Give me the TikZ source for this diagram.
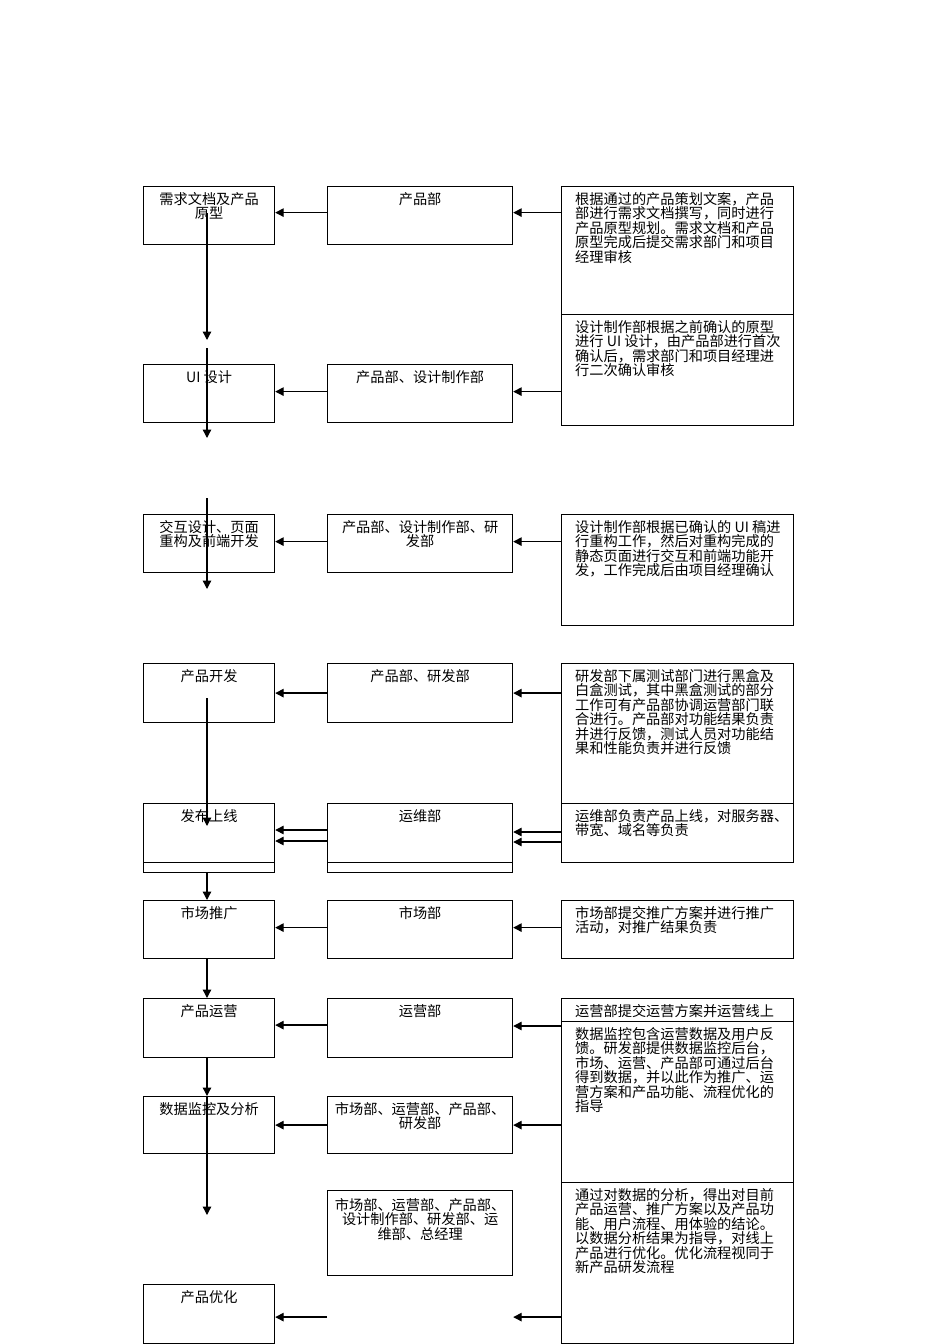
\documentclass[tikz,border=0pt]{standalone}
\usepackage{fontspec}
\newfontfamily\cjk{Noto Sans CJK SC}
\usetikzlibrary{arrows.meta,calc}
\tikzset{
  box/.style={draw, line width=1.2pt, inner sep=0pt, anchor=north west},
  ctext/.style={font=\cjk\fontsize{14.2}{14.5}\selectfont, inner sep=0pt, anchor=north, align=center},
  ltext/.style={font=\cjk\fontsize{14.2}{14.5}\selectfont, inner sep=0pt, anchor=north west, align=left},
  arr/.style={line width=1.3pt, -{Triangle[length=8.5pt,width=8.5pt]}},
  ln/.style={line width=1.2pt}
}
\begin{document}
\begin{tikzpicture}[x=1pt,y=-1pt]
\useasboundingbox[fill=white] (0,0) rectangle (950,1344);
% left column
\node[box, minimum width=131pt, minimum height=58pt] (l1) at (143,186) {};
\node[box, minimum width=131pt, minimum height=58pt] (l2) at (143,364) {};
\node[box, minimum width=131pt, minimum height=58pt] (l3) at (143,514) {};
\node[box, minimum width=131pt, minimum height=59pt] (l4) at (143,663) {};
\node[box, minimum width=131pt, minimum height=69pt] (l5) at (143,803) {};
\node[box, minimum width=131pt, minimum height=58pt] (l6) at (143,900) {};
\node[box, minimum width=131pt, minimum height=59pt] (l7) at (143,998) {};
\node[box, minimum width=131pt, minimum height=57pt] (l8) at (143,1096) {};
\node[box, minimum width=131pt, minimum height=59pt] (l9) at (143,1284) {};
% middle column
\node[box, minimum width=185pt, minimum height=58pt] (m1) at (327,186) {};
\node[box, minimum width=185pt, minimum height=58pt] (m2) at (327,364) {};
\node[box, minimum width=185pt, minimum height=58pt] (m3) at (327,514) {};
\node[box, minimum width=185pt, minimum height=59pt] (m4) at (327,663) {};
\node[box, minimum width=185pt, minimum height=69pt] (m5) at (327,803) {};
\node[box, minimum width=185pt, minimum height=58pt] (m6) at (327,900) {};
\node[box, minimum width=185pt, minimum height=59pt] (m7) at (327,998) {};
\node[box, minimum width=185pt, minimum height=57pt] (m8) at (327,1096) {};
\node[box, minimum width=185pt, minimum height=85pt] (m9) at (327,1190) {};
% right column
\node[box, minimum width=232pt, minimum height=128pt] (r1) at (561,186) {};
\node[box, minimum width=232pt, minimum height=111pt] (r2) at (561,314) {};
\node[box, minimum width=232pt, minimum height=111pt] (r3) at (561,514) {};
\node[box, minimum width=232pt, minimum height=140pt] (r4) at (561,663) {};
\node[box, minimum width=232pt, minimum height=59pt] (r5) at (561,803) {};
\node[box, minimum width=232pt, minimum height=58pt] (r6) at (561,900) {};
\node[box, minimum width=232pt, minimum height=23pt] (r7) at (561,998) {};
\node[box, minimum width=232pt, minimum height=161pt] (r8) at (561,1021) {};
\node[box, minimum width=232pt, minimum height=161pt] (r9) at (561,1182) {};
% inner lines of row 5
\draw[ln] ($(l5.south west)+(0,-11)$) -- ($(l5.south east)+(0,-11)$);
\draw[ln] ($(m5.south west)+(0,-11)$) -- ($(m5.south east)+(0,-11)$);
% texts left
\node[ctext] (tl1) at ($(l1.north)+(0,6)$) {需求文档及产品\\原型};
\node[ctext] (tl2) at ($(l2.north)+(0,6)$) {UI 设计};
\node[ctext] (tl3) at ($(l3.north)+(0,6)$) {交互设计、页面\\重构及前端开发};
\node[ctext] (tl4) at ($(l4.north)+(0,6)$) {产品开发};
\node[ctext] (tl5) at ($(l5.north)+(0,6)$) {发布上线};
\node[ctext] (tl6) at ($(l6.north)+(0,6)$) {市场推广};
\node[ctext] (tl7) at ($(l7.north)+(0,6)$) {产品运营};
\node[ctext] (tl8) at ($(l8.north)+(0,6)$) {数据监控及分析};
\node[ctext] (tl9) at ($(l9.north)+(0,6)$) {产品优化};
% texts middle
\node[ctext] (tm1) at ($(m1.north)+(0,6)$) {产品部};
\node[ctext] (tm2) at ($(m2.north)+(0,6)$) {产品部、设计制作部};
\node[ctext] (tm3) at ($(m3.north)+(0,6)$) {产品部、设计制作部、研\\发部};
\node[ctext] (tm4) at ($(m4.north)+(0,6)$) {产品部、研发部};
\node[ctext] (tm5) at ($(m5.north)+(0,6)$) {运维部};
\node[ctext] (tm6) at ($(m6.north)+(0,6)$) {市场部};
\node[ctext] (tm7) at ($(m7.north)+(0,6)$) {运营部};
\node[ctext] (tm8) at ($(m8.north)+(0,6)$) {市场部、运营部、产品部、\\研发部};
\node[ctext] (tm9) at ($(m9.north)+(0,8)$) {市场部、运营部、产品部、\\设计制作部、研发部、运\\维部、总经理};
% texts right
\node[ltext] (tr1) at ($(r1.north west)+(14,6)$) {根据通过的产品策划文案，产品\\部进行需求文档撰写，同时进行\\产品原型规划。需求文档和产品\\原型完成后提交需求部门和项目\\经理审核};
\node[ltext] (tr2) at ($(r2.north west)+(14,6)$) {设计制作部根据之前确认的原型\\进行 UI 设计，由产品部进行首次\\确认后，需求部门和项目经理进\\行二次确认审核};
\node[ltext] (tr3) at ($(r3.north west)+(14,6)$) {设计制作部根据已确认的 UI 稿进\\行重构工作，然后对重构完成的\\静态页面进行交互和前端功能开\\发，工作完成后由项目经理确认};
\node[ltext] (tr4) at ($(r4.north west)+(14,6)$) {研发部下属测试部门进行黑盒及\\白盒测试，其中黑盒测试的部分\\工作可有产品部协调运营部门联\\合进行。产品部对功能结果负责\\并进行反馈，测试人员对功能结\\果和性能负责并进行反馈};
\node[ltext] (tr5) at ($(r5.north west)+(14,6)$) {运维部负责产品上线，对服务器、\\带宽、域名等负责};
\node[ltext] (tr6) at ($(r6.north west)+(14,6)$) {市场部提交推广方案并进行推广\\活动，对推广结果负责};
\node[ltext] (tr7) at ($(r7.north west)+(14,6)$) {运营部提交运营方案并运营线上};
\node[ltext] (tr8) at ($(r8.north west)+(14,6)$) {数据监控包含运营数据及用户反\\馈。研发部提供数据监控后台，\\市场、运营、产品部可通过后台\\得到数据，并以此作为推广、运\\营方案和产品功能、流程优化的\\指导};
\node[ltext] (tr9) at ($(r9.north west)+(14,6)$) {通过对数据的分析，得出对目前\\产品运营、推广方案以及产品功\\能、用户流程、用体验的结论。\\以数据分析结果为指导，对线上\\产品进行优化。优化流程视同于\\新产品研发流程};
% horizontal arrows
\draw[arr] ($(r1.west |- m1.west)+(0,-3)$) -- ($(m1.east)+(0,-3)$);
\draw[arr] ($(m1.west)+(0,-3)$) -- ($(l1.east)+(0,-3)$);
\draw[arr] ($(r2.west |- m2.west)+(0,-2)$) -- ($(m2.east)+(0,-2)$);
\draw[arr] ($(m2.west)+(0,-2)$) -- ($(l2.east)+(0,-2)$);
\draw[arr] ($(r3.west |- m3.west)+(0,-2)$) -- ($(m3.east)+(0,-2)$);
\draw[arr] ($(m3.west)+(0,-2)$) -- ($(l3.east)+(0,-2)$);
\draw[arr] (r4.west |- m4.west) -- (m4.east);
\draw[arr] (m4.west) -- (l4.east);
\draw[arr] ($(r5.north west)+(0,29)$) -- ($(m5.north east)+(0,29)$);
\draw[arr] ($(r5.north west)+(0,39)$) -- ($(m5.north east)+(0,39)$);
\draw[arr] ($(m5.north west)+(0,27)$) -- ($(l5.north east)+(0,27)$);
\draw[arr] ($(m5.north west)+(0,38)$) -- ($(l5.north east)+(0,38)$);
\draw[arr] ($(r6.west |- m6.west)+(0,-2)$) -- ($(m6.east)+(0,-2)$);
\draw[arr] ($(m6.west)+(0,-2)$) -- ($(l6.east)+(0,-2)$);
\draw[arr] ($(r8.north west)+(0,5)$) -- ($(m7.north east)+(0,28)$);
\draw[arr] ($(m7.west)+(0,-3)$) -- ($(l7.east)+(0,-3)$);
\draw[arr] (r8.west |- m8.west) -- (m8.east);
\draw[arr] (m8.west) -- (l8.east);
\draw[arr] ($(r9.west |- l9.east)+(0,3)$) -- ($(m9.east |- l9.east)+(0,3)$);
\draw[arr] ($(m9.west |- l9.east)+(0,3)$) -- ($(l9.east)+(0,3)$);
% vertical connectors
\coordinate (v1a) at (207,213);
\coordinate (v1b) at (207,340);
\coordinate (v2a) at (207,348);
\coordinate (v2b) at (207,438);
\coordinate (v3a) at (207,498);
\coordinate (v3b) at (207,589);
\coordinate (v4a) at (207,698);
\coordinate (v4b) at (207,826);
\coordinate (v8b) at (207,1215);
\draw[arr] (v1a) -- (v1b);
\draw[arr] (v2a) -- (v2b);
\draw[arr] (v3a) -- (v3b);
\draw[arr] (v4a) -- (v4b);
\draw[arr] (l5.south -| v1a) -- (l6.north -| v1a);
\draw[arr] (l6.south -| v1a) -- (l7.north -| v1a);
\draw[arr] (l7.south -| v1a) -- (l8.north -| v1a);
\draw[arr] (l8.north -| v1a) -- (v8b);
\end{tikzpicture}
\end{document}
